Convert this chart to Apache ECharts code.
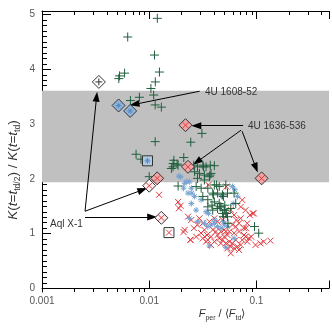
<!DOCTYPE html>
<html><head><meta charset="utf-8">
<script src="https://cdn.jsdelivr.net/npm/echarts@6/dist/echarts.min.js"></script>
<style>html,body{margin:0;padding:0;background:#fff}#c{width:332px;height:331px}</style>
</head><body><div id="c"></div>
<script>
// ---- data ----
const X_MIN = 0.001, X_MAX = 0.475, Y_MIN = -0.064, Y_MAX = 5.064;
const yTicks = [0, 1, 2, 3, 4, 5];
const xTickLabels = ['0.001', '0.01', '0.1'];
const bandRange = [1.94, 3.61];

const greenPlus = [
 [0.0119,4.93],[0.0063,4.59],[0.0112,4.26],[0.01245,3.95],[0.00529,3.88],[0.00589,3.93],[0.0052,3.83],
 [0.0114,3.77],[0.01037,3.65],[0.0110,3.53],[0.00668,3.43],[0.0081,3.49],[0.01136,3.35],[0.01298,3.31],
 [0.031,2.83],[0.01136,2.68],[0.0244,2.67],[0.00754,2.45],[0.00838,2.36],[0.0210,2.39],[0.0170,2.34],
 [0.0182,2.27],[0.0167,2.22],[0.0260,2.25],[0.0321,2.22],[0.0371,2.25],[0.0100,2.04],
 [0.0167,2.28],[0.0186,2.25],[0.0161,2.19],[0.0282,2.22],[0.0316,2.25],[0.0339,2.22],[0.0405,2.24],
 [0.0265,2.13],[0.0294,2.10],[0.0327,2.07],[0.0364,2.04],[0.0377,2.10],[0.0282,2.01],[0.0327,1.98],
 [0.0186,1.87],[0.0274,1.86],[0.0305,1.83],[0.0352,1.83],[0.0405,1.89],[0.0450,1.86],[0.0518,1.89],
 [0.0391,1.74],[0.0434,1.74],[0.0483,1.71],[0.0537,1.74],[0.0316,1.68],[0.0352,1.62],[0.0405,1.58],
 [0.0450,1.55],[0.0466,1.49],[0.0500,1.43],[0.0518,1.37],[0.0537,1.31],[0.0483,1.37],[0.0434,1.46],
 [0.0391,1.43],[0.0352,1.49],[0.0576,1.46],[0.0641,1.55],[0.0619,1.74],[0.0959,1.13],[0.105,1.01],
 [0.0369,2.07],[0.0425,1.89],[0.0397,1.71],[0.0492,1.68],[0.0385,1.52],[0.0457,1.49],[0.0507,1.43],
 [0.0492,1.31],[0.0524,1.37],[0.0543,1.19],[0.0507,1.52]
];
const blueStar = [
 [0.0189,2.05],[0.0214,1.92],[0.0238,1.95],[0.0247,1.83],[0.0230,1.74],[0.0265,1.68],[0.0305,1.62],
 [0.0247,1.55],[0.0274,1.43],[0.0339,1.40],[0.0238,1.28],[0.0282,1.22],[0.0327,1.19],[0.0352,1.13],
 [0.0377,1.16],[0.0405,1.19],[0.0434,1.13],[0.0466,1.10],[0.0500,1.16],[0.0537,1.13],[0.0364,0.776],
 [0.0518,0.751],[0.0619,0.915],[0.0597,1.86],[0.0664,1.68],[0.0196,2.04],[0.0224,1.95],[0.0209,1.83],
 [0.0250,1.74],[0.0629,1.80],[0.0473,1.68],[0.0608,1.55],[0.0357,1.37],[0.0411,1.25],[0.0492,1.22]
];
const redCross = [
 [0.01236,1.71],[0.0186,1.58],[0.0196,1.51],[0.0189,1.463],[0.0230,1.31],[0.0247,1.25],[0.0214,1.07],
 [0.0243,0.885],[0.0261,1.10],[0.0282,1.16],[0.0274,0.946],[0.0305,1.01],[0.0316,0.915],[0.0327,1.07],
 [0.0346,0.976],[0.0352,0.885],[0.0377,0.946],[0.0405,0.855],[0.0419,1.04],[0.0434,0.976],[0.0450,0.915],
 [0.0466,0.824],[0.0483,0.885],[0.0500,0.946],[0.0518,1.04],[0.0537,0.976],[0.0558,0.855],[0.0576,0.764],
 [0.0576,0.642],[0.0597,0.824],[0.0619,0.733],[0.0641,0.885],[0.0664,0.764],[0.0688,0.703],[0.0713,0.794],
 [0.0738,0.885],[0.0765,0.976],[0.0792,0.946],[0.0821,0.855],[0.0850,0.915],[0.0893,0.946],[0.0945,1.37],
 [0.098,0.794],[0.109,0.824],[0.117,0.855],[0.135,0.873],[0.0641,1.128],[0.0688,1.19],[0.0713,1.28],
 [0.0738,1.615],[0.0576,1.433],[0.0619,1.34],[0.0294,1.28],[0.0316,1.19],[0.0364,1.22],[0.0391,1.07],
 [0.0405,1.28],[0.0434,1.22],[0.0466,1.04],[0.0483,1.25],[0.0500,1.07],[0.0558,1.04],[0.0597,1.16],
 [0.0619,1.01],[0.0688,1.04],[0.0765,1.10],[0.0821,1.19],[0.0868,1.34],[0.0713,1.49],[0.0792,1.43],
 [0.0339,0.855],[0.0377,0.794],[0.0518,0.824],[0.0537,0.733],[0.0209,1.03],[0.0242,0.89],[0.0925,1.37],
 [0.065,1.25],[0.080,1.10],[0.0357,1.89],[0.0524,1.86]
];
// highlighted bursts
const diamondPinkX = [[0.0218,2.98],[0.0230,2.22],[0.1117,2.01],[0.01186,2.01]];
const diamondWhiteX = [[0.0100,1.876],[0.01298,1.29]];
const diamondBluePlusStar = [[0.00518,3.34],[0.00664,3.24]];
const diamondWhitePlus = [[0.00339,3.77]];
const squareBlueStar = [[0.00964,2.33]];
const squareWhiteX = [[0.01528,1.02]];

const arrows = [
 [[0.0295,3.60],[0.00728,3.36]],
 [[0.0751,2.97],[0.0275,2.97]],
 [[0.0720,2.89],[0.0279,2.31]],
 [[0.0735,2.87],[0.0990,2.20]],
 [[0.00252,1.41],[0.00323,3.50]],
 [[0.00252,1.41],[0.00867,1.80]],
 [[0.00252,1.305],[0.01066,1.305]]
];
const minorMult = [2,3,4,5,6,7,8,9];
const decades = [0.001,0.01,0.1];

// ---- chart ----
const GREEN='#215f3e', RED='#e23a3f', BLUE='#74a2d2';
const PLUS='path://M5,0L5,10M0,5L10,5';
const CROSS='path://M0,0L10,10M10,0L0,10';
const STAR='path://M5,0L5,10M0,5L10,5M1.5,1.5L8.5,8.5M8.5,1.5L1.5,8.5';
const FONT='"Liberation Sans", Arial, sans-serif';

const minorTicks = [];
decades.forEach(d => minorMult.forEach(m => { const v = d*m; if (v < X_MAX) minorTicks.push([v, 0]); }));

function markerSeries(data, symbol, size, color, width, z) {
  return { type:'scatter', xAxisIndex:0, yAxisIndex:0, data, symbol, symbolSize:size, z,
    symbolKeepAspect:true, silent:true,
    itemStyle:{ color:'rgba(0,0,0,0)', borderColor:color, borderWidth:width, opacity:1 } };
}
function boxSeries(data, symbol, size, fill, z) {
  return { type:'scatter', xAxisIndex:0, yAxisIndex:0, data, symbol, symbolSize:size, z, silent:true,
    itemStyle:{ color:fill, borderColor:'#333', borderWidth:1, opacity:1 } };
}
const richStyle = (fs, ss) => ({
  i:{fontSize:fs, fontStyle:'italic', fontFamily:FONT, fill:'#333', lineHeight:fs+5, verticalAlign:'middle'},
  n:{fontSize:fs, fontFamily:FONT, fill:'#333', lineHeight:fs+5, verticalAlign:'middle'},
  s:{fontSize:ss, fontFamily:FONT, fill:'#333', lineHeight:fs+5, verticalAlign:'bottom'}
});

const chart = echarts.init(document.getElementById('c'), null, {renderer:'canvas'});
chart.setOption({
  animation:false,
  backgroundColor:'#fff',
  grid:[
    {left:42, top:11, right:0, bottom:39},
    {left:42, top:14.5, right:0, bottom:42.5}
  ],
  xAxis:[
    {type:'log', gridIndex:0, min:X_MIN, max:X_MAX, logBase:10, interval:1, position:'bottom',
     axisLine:{lineStyle:{color:'#000', width:1}},
     axisTick:{inside:true, length:8, lineStyle:{color:'#000'}},
     axisLabel:{color:'#555', fontSize:10, fontFamily:FONT, margin:4,
       formatter:(v)=>{ const i = decades.findIndex(d=>Math.abs(d-v)/d<1e-6); return i>=0?xTickLabels[i]:''; }},
     splitLine:{show:false}},
    {type:'log', gridIndex:0, min:X_MIN, max:X_MAX, logBase:10, interval:1, position:'top',
     axisLine:{lineStyle:{color:'#000', width:1}},
     axisTick:{inside:true, length:8, lineStyle:{color:'#000'}},
     axisLabel:{show:false}, splitLine:{show:false}},
    {type:'value', gridIndex:1, show:false, min:0, max:1}
  ],
  yAxis:[
    {type:'value', gridIndex:0, min:Y_MIN, max:Y_MAX,
     axisLine:{show:true, lineStyle:{color:'#000', width:1}},
     axisTick:{show:false}, axisLabel:{show:false}, splitLine:{show:false}},
    {type:'value', gridIndex:1, min:0, max:5, interval:1,
     axisLine:{show:false},
     axisTick:{show:true, inside:true, length:9, lineStyle:{color:'#000'}},
     minorTick:{show:true, splitNumber:10, length:5, lineStyle:{color:'#000'}},
     axisLabel:{color:'#555', fontSize:10, fontFamily:FONT, margin:7,
       formatter:(v)=> yTicks.includes(v) ? String(v) : ''},
     splitLine:{show:false}}
  ],
  series:[
    { type:'scatter', xAxisIndex:0, yAxisIndex:0, data:[], z:1, silent:true,
      markArea:{ silent:true, itemStyle:{color:'#c0c0c0'},
        data:[[{yAxis:bandRange[0]},{yAxis:bandRange[1]}]] } },
    { type:'custom', xAxisIndex:0, yAxisIndex:0, data:minorTicks, z:5, silent:true,
      renderItem:(params, api)=>{
        const v = api.value(0);
        const b = api.coord([v, Y_MIN]); const t = api.coord([v, Y_MAX]);
        const x = Math.round(b[0]) + 0.5;
        return {type:'group', children:[
          {type:'line', shape:{x1:x, y1:b[1], x2:x, y2:b[1]-4}, style:{stroke:'#000', lineWidth:1}},
          {type:'line', shape:{x1:x, y1:t[1], x2:x, y2:t[1]+4}, style:{stroke:'#000', lineWidth:1}}
        ]};
      } },
    markerSeries(redCross, CROSS, 6, RED, 1, 3),
    markerSeries(blueStar, STAR, 6, BLUE, 1, 4),
    markerSeries(greenPlus, PLUS, 9, GREEN, 1, 5),
    boxSeries(diamondPinkX, 'diamond', 13, '#eba7a8', 6),
    boxSeries(diamondWhiteX, 'diamond', 13, '#fbeeee', 6),
    boxSeries(diamondBluePlusStar, 'diamond', 13, '#94b8dc', 6),
    boxSeries(diamondWhitePlus, 'diamond', 13, '#ffffff', 6),
    boxSeries(squareBlueStar, 'rect', 10, '#b2cce6', 6),
    boxSeries(squareWhiteX, 'rect', 10, '#ffffff', 6),
    markerSeries(diamondPinkX.concat(diamondWhiteX, squareWhiteX), CROSS, 6, RED, 1, 7),
    markerSeries(diamondBluePlusStar.concat(squareBlueStar), STAR, 6, '#5a8cc0', 1, 7),
    markerSeries(diamondWhitePlus, PLUS, 7, '#333', 1, 7),
    { type:'scatter', xAxisIndex:0, yAxisIndex:0, data:[], z:8, silent:true,
      markLine:{ silent:true, symbol:['none','triangle'], symbolSize:[7,10], animation:false,
        lineStyle:{color:'#000', width:1, type:'solid'}, label:{show:false},
        emphasis:{disabled:true},
        data: arrows.map(a=>[{coord:a[0]},{coord:a[1]}]) } }
  ],
  graphic:[
    {type:'text', x:13, y:170, rotation:Math.PI/2, z:100,
     style:{text:'{i|K}{n|(}{i|t}{n|=}{i|t}{s|td/2}{n|) / }{i|K}{n|(}{i|t}{n|=}{i|t}{s|td}{n|)}',
       align:'center', verticalAlign:'middle', fill:'#333', rich:richStyle(13.5, 8.5)}},
    {type:'text', x:222, y:314, z:100,
     style:{text:'{i|F}{s|per}{n| / \u27E8}{i|F}{s|td}{n|\u27E9}',
       align:'center', verticalAlign:'middle', fill:'#333', rich:richStyle(11, 7)}},
    {type:'text', x:205, y:92, z:100, style:{text:'4U 1608-52', font:'10px '+FONT, fill:'#333', verticalAlign:'middle'}},
    {type:'text', x:248, y:126, z:100, style:{text:'4U 1636-536', font:'10px '+FONT, fill:'#333', verticalAlign:'middle'}},
    {type:'text', x:50, y:224, z:100, style:{text:'Aql X-1', font:'10px '+FONT, fill:'#333', verticalAlign:'middle'}}
  ]
});
</script></body></html>
